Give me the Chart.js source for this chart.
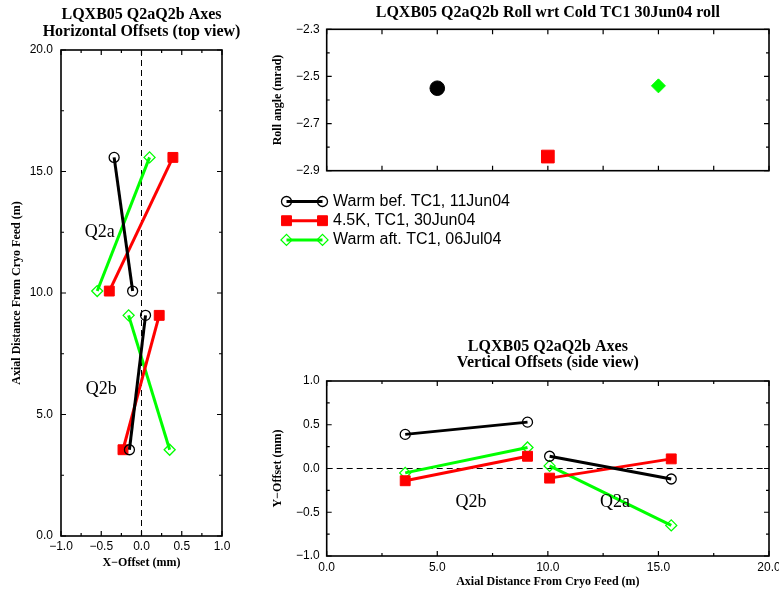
<!DOCTYPE html>
<html>
<head>
<meta charset="utf-8">
<script src="https://cdn.jsdelivr.net/npm/chart.js@4.4.1/dist/chart.umd.min.js"></script>
<style>
  html, body { margin: 0; padding: 0; background: #fff; }
  body { width: 779px; height: 592px; position: relative; overflow: hidden; }
  .box { position: absolute; }
  canvas { display: block; }
</style>
</head>
<body>
<div class="box" style="left:0;top:0;width:250px;height:592px"><canvas id="topView" width="250" height="592"></canvas></div>
<div class="box" style="left:240px;top:0;width:539px;height:260px"><canvas id="roll" width="539" height="260"></canvas></div>
<div class="box" style="left:240px;top:330px;width:539px;height:262px"><canvas id="sideView" width="539" height="262"></canvas></div>
<script>
// series (measurement campaigns)
const seriesNames = ['Warm bef. TC1, 11Jun04', '4.5K, TC1, 30Jun04', 'Warm aft. TC1, 06Jul04'];
const seriesColors = ['#000000', '#ff0000', '#00ff00'];

// axial positions of the magnet ends (m): Q2b start, Q2b end, Q2a start, Q2a end
const axialPos = [3.55, 9.08, 10.08, 15.58];

// horizontal offsets, top view (mm)
const xOffsetBef = [-0.15, 0.05, -0.11, -0.34];
const xOffsetCold = [-0.23, 0.22, -0.40, 0.39];
const xOffsetAft = [0.35, -0.16, -0.55, 0.10];

// vertical offsets, side view (mm)
const yOffsetBef = [0.39, 0.53, 0.14, -0.12];
const yOffsetCold = [-0.14, 0.14, -0.11, 0.11];
const yOffsetAft = [-0.05, 0.24, 0.03, -0.65];

// roll angles (mrad)
const rollIndex = [1, 2, 3];
const rollAngle = [-2.55, -2.84, -2.54];

// magnet name labels
const noteText = ['Q2a', 'Q2b'];
const topNoteX = [-0.52, -0.50];
const topNoteY = [12.5, 6.05];
const sideNoteX = [13.04, 6.52];
const sideNoteY = [-0.39, -0.39];

const xOffsets = [xOffsetBef, xOffsetCold, xOffsetAft];
const yOffsets = [yOffsetBef, yOffsetCold, yOffsetAft];

// marker looks per series
const markers = [
  { style: 'circle', r: 5, fill: 'rgba(0,0,0,0)', bw: 1.3 },
  { style: 'rect', r: 7, fill: '#ff0000', bw: 1 },
  { style: 'rectRot', r: 5.5, fill: 'rgba(0,0,0,0)', bw: 1.3 }
];
const rollMarkers = [
  { style: 'circle', r: 7.3, bw: 1 },
  { style: 'rect', r: 9, bw: 1 },
  { style: 'rectRot', r: 7, bw: 1 }
];

Chart.defaults.font.family = '"Liberation Sans", Arial, sans-serif';
Chart.defaults.color = '#000';

const SERIF = '"Liberation Serif", "Times New Roman", serif';
const fmt = v => Number(v).toFixed(1).replace('-', '\u2212');

function drawMarker(ctx, style, x, y, r) {
  ctx.beginPath();
  if (style === 'circle') {
    ctx.arc(x, y, r, 0, Math.PI * 2);
  } else if (style === 'rect') {
    const s = Math.SQRT1_2 * r;
    ctx.rect(x - s, y - s, 2 * s, 2 * s);
  } else {
    ctx.moveTo(x - r, y); ctx.lineTo(x, y - r); ctx.lineTo(x + r, y); ctx.lineTo(x, y + r);
    ctx.closePath();
  }
  ctx.fill();
  ctx.stroke();
}

// frame with inward ticks on all four sides, plus dashed zero line
const framePlugin = {
  id: 'frame',
  beforeDatasetsDraw(chart, args, opts) {
    const { ctx, chartArea: a } = chart;
    const sx = chart.scales.x, sy = chart.scales.y;
    ctx.save();
    ctx.strokeStyle = '#000';
    ctx.lineWidth = 1;
    ctx.setLineDash([6, 4]);
    if (opts.zeroX) {
      const px = sx.getPixelForValue(0);
      ctx.beginPath(); ctx.moveTo(px, a.top); ctx.lineTo(px, a.bottom); ctx.stroke();
    }
    if (opts.zeroY) {
      const py = sy.getPixelForValue(0);
      ctx.beginPath(); ctx.moveTo(a.left, py); ctx.lineTo(a.right, py); ctx.stroke();
    }
    ctx.setLineDash([]);
    ctx.lineWidth = 1.2;
    const ticks = (scale, minor, major, horiz) => {
      const n = Math.round((scale.max - scale.min) / minor);
      for (let k = 0; k <= n; k++) {
        const v = scale.min + k * minor;
        const q = (v - scale.min) / major;
        const len = Math.abs(q - Math.round(q)) < 1e-6 ? 5 : 3;
        const p = scale.getPixelForValue(v);
        ctx.beginPath();
        if (horiz) {
          ctx.moveTo(p, a.bottom); ctx.lineTo(p, a.bottom - len);
          ctx.moveTo(p, a.top); ctx.lineTo(p, a.top + len);
        } else {
          ctx.moveTo(a.left, p); ctx.lineTo(a.left + len, p);
          ctx.moveTo(a.right, p); ctx.lineTo(a.right - len, p);
        }
        ctx.stroke();
      }
    };
    ticks(sx, opts.xMinor, opts.xMajor, true);
    ticks(sy, opts.yMinor, opts.yMajor, false);
    ctx.lineWidth = 1.6;
    ctx.strokeRect(a.left, a.top, a.width, a.height);
    ctx.restore();
  }
};

// chart heading, centred over the plot area, never squeezed
const headingPlugin = {
  id: 'heading',
  afterDraw(chart, args, opts) {
    if (!opts.lines) return;
    const { ctx, chartArea: a } = chart;
    ctx.save();
    ctx.font = 'bold 16px ' + SERIF;
    ctx.fillStyle = '#000';
    ctx.textAlign = 'center';
    ctx.textBaseline = 'middle';
    opts.lines.forEach((t, i) => ctx.fillText(t, (a.left + a.right) / 2, opts.ys[i]));
    ctx.restore();
  }
};

const notesPlugin = {
  id: 'notes',
  afterDatasetsDraw(chart, args, opts) {
    if (!opts.xs) return;
    const ctx = chart.ctx;
    ctx.save();
    ctx.font = '18px ' + SERIF;
    ctx.fillStyle = '#000';
    ctx.textAlign = 'center';
    ctx.textBaseline = 'middle';
    noteText.forEach((t, i) => {
      ctx.fillText(t, chart.scales.x.getPixelForValue(opts.xs[i]), chart.scales.y.getPixelForValue(opts.ys[i]));
    });
    ctx.restore();
  }
};

const legendPlugin = {
  id: 'seriesLegend',
  afterDraw(chart, args, opts) {
    if (!opts.top) return;
    const ctx = chart.ctx;
    ctx.save();
    seriesNames.forEach((name, i) => {
      const y = opts.top + i * opts.gap;
      ctx.strokeStyle = seriesColors[i];
      ctx.lineWidth = 3;
      ctx.beginPath(); ctx.moveTo(opts.x0, y); ctx.lineTo(opts.x1, y); ctx.stroke();
      ctx.lineWidth = markers[i].bw;
      ctx.fillStyle = markers[i].fill;
      drawMarker(ctx, markers[i].style, opts.x0, y, markers[i].r);
      drawMarker(ctx, markers[i].style, opts.x1, y, markers[i].r);
      ctx.fillStyle = '#000';
      ctx.font = '16px "Liberation Sans", Arial, sans-serif';
      ctx.textAlign = 'left';
      ctx.textBaseline = 'middle';
      ctx.fillText(name, opts.textX, y);
    });
    ctx.restore();
  }
};

function segmentSets(getPoint) {
  const sets = [];
  seriesNames.forEach((name, i) => {
    [[0, 1], [2, 3]].forEach(seg => {
      sets.push({
        label: name,
        data: seg.map(k => getPoint(i, k)),
        showLine: true,
        borderColor: seriesColors[i],
        borderWidth: 3,
        pointStyle: markers[i].style,
        pointRadius: markers[i].r,
        pointHoverRadius: markers[i].r,
        pointBackgroundColor: markers[i].fill,
        pointBorderColor: seriesColors[i],
        pointBorderWidth: markers[i].bw
      });
    });
  });
  return sets;
}

function axisTitle(text, top, bottom) {
  return {
    display: true, text: text, color: '#000',
    font: { family: SERIF, size: 12, weight: 'bold', lineHeight: 1.2 },
    padding: { top: top, bottom: bottom }
  };
}

const noGrid = { display: false, drawTicks: false };

// ---- left: horizontal offsets (top view)
new Chart(document.getElementById('topView'), {
  type: 'scatter',
  data: { datasets: segmentSets((i, k) => ({ x: xOffsets[i][k], y: axialPos[k] })) },
  options: {
    responsive: false, animation: false,
    layout: { padding: { left: 0, right: 28, top: 50, bottom: 0 } },
    scales: {
      x: {
        type: 'linear', min: -1, max: 1,
        grid: noGrid, border: { display: false },
        ticks: { stepSize: 0.5, padding: 3, font: { size: 12 }, callback: fmt },
        title: axisTitle('X\u2212Offset (mm)', 0, 22),
        afterFit: s => { s.height = 56; }
      },
      y: {
        type: 'linear', min: 0, max: 20,
        grid: noGrid, border: { display: false },
        ticks: { stepSize: 5, padding: 8, font: { size: 12 }, callback: fmt },
        title: axisTitle('Axial Distance From Cryo Feed (m)', 10, 0),
        afterFit: s => { s.width = 61; }
      }
    },
    plugins: {
      legend: { display: false }, tooltip: { enabled: false }, title: { display: false },
      heading: { lines: ['LQXB05 Q2aQ2b Axes', 'Horizontal Offsets (top view)'], ys: [15, 32] },
      frame: { xMinor: 0.25, xMajor: 0.5, yMinor: 2.5, yMajor: 5, zeroX: true },
      notes: { xs: topNoteX, ys: topNoteY }
    }
  },
  plugins: [framePlugin, notesPlugin, headingPlugin]
});

// ---- top right: roll angles
new Chart(document.getElementById('roll'), {
  type: 'scatter',
  data: {
    datasets: seriesNames.map((name, i) => ({
      label: name,
      data: [{ x: rollIndex[i], y: rollAngle[i] }],
      pointStyle: rollMarkers[i].style,
      pointRadius: rollMarkers[i].r,
      pointHoverRadius: rollMarkers[i].r,
      pointBackgroundColor: seriesColors[i],
      pointBorderColor: seriesColors[i],
      pointBorderWidth: rollMarkers[i].bw
    }))
  },
  options: {
    responsive: false, animation: false,
    layout: { padding: { left: 0, right: 10, top: 29.3, bottom: 89.3 } },
    scales: {
      x: { type: 'linear', min: 0, max: 4, display: false },
      y: {
        type: 'linear', min: -2.9, max: -2.3,
        grid: noGrid, border: { display: false },
        ticks: { stepSize: 0.2, padding: 7, font: { size: 12 }, callback: fmt },
        title: axisTitle('Roll angle (mrad)', 30.8, 0),
        afterFit: s => { s.width = 86.7; }
      }
    },
    plugins: {
      legend: { display: false }, tooltip: { enabled: false }, title: { display: false },
      heading: { lines: ['LQXB05 Q2aQ2b Roll wrt Cold TC1 30Jun04 roll'], ys: [13] },
      frame: { xMinor: 0.5, xMajor: 0.5, yMinor: 0.1, yMajor: 0.2 },
      seriesLegend: { top: 201.5, gap: 19.2, x0: 46.5, x1: 82.5, textX: 93 }
    }
  },
  plugins: [framePlugin, legendPlugin, headingPlugin]
});

// ---- bottom right: vertical offsets (side view)
new Chart(document.getElementById('sideView'), {
  type: 'scatter',
  data: { datasets: segmentSets((i, k) => ({ x: axialPos[k], y: yOffsets[i][k] })) },
  options: {
    responsive: false, animation: false,
    layout: { padding: { left: 0, right: 10, top: 51, bottom: 0 } },
    scales: {
      x: {
        type: 'linear', min: 0, max: 20,
        grid: noGrid, border: { display: false },
        ticks: { stepSize: 5, padding: 4, font: { size: 12 }, callback: fmt },
        title: axisTitle('Axial Distance From Cryo Feed (m)', 0, 2.8),
        afterFit: s => { s.height = 36; s.paddingLeft = 0; s.paddingRight = 0; }
      },
      y: {
        type: 'linear', min: -1, max: 1,
        grid: noGrid, border: { display: false },
        ticks: { stepSize: 0.5, padding: 7, font: { size: 12 }, callback: fmt },
        title: axisTitle('Y\u2212Offset (mm)', 30.8, 0),
        afterFit: s => { s.width = 86.7; }
      }
    },
    plugins: {
      legend: { display: false }, tooltip: { enabled: false }, title: { display: false },
      heading: { lines: ['LQXB05 Q2aQ2b Axes', 'Vertical Offsets (side view)'], ys: [17, 33] },
      frame: { xMinor: 2.5, xMajor: 5, yMinor: 0.25, yMajor: 0.5, zeroY: true },
      notes: { xs: sideNoteX, ys: sideNoteY }
    }
  },
  plugins: [framePlugin, notesPlugin, headingPlugin]
});
</script>
</body>
</html>
